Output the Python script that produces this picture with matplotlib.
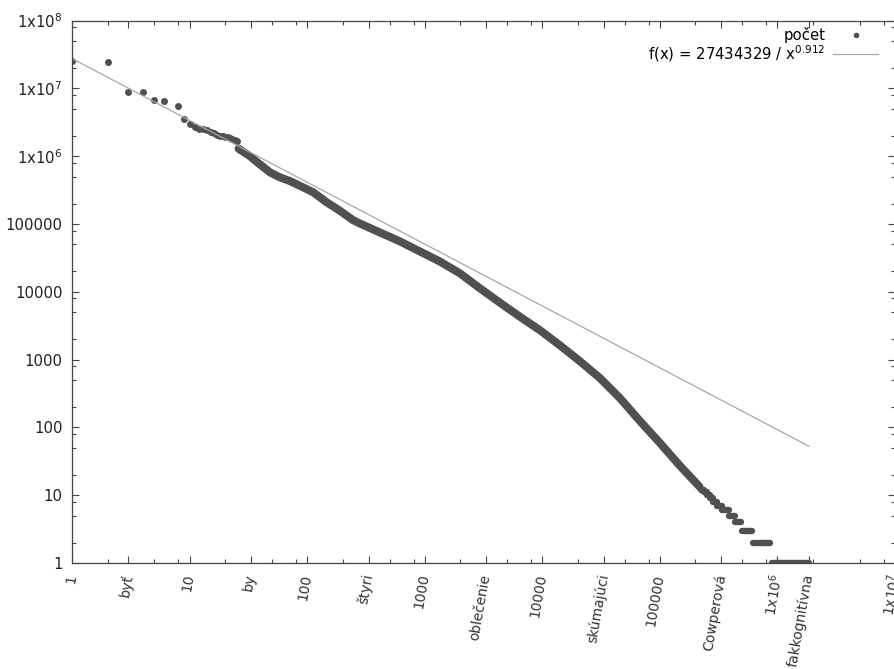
import matplotlib.pyplot as plt
import numpy as np

# first ranks, drawn as single dots
top_rank = [1, 2, 3, 4, 5, 6, 8, 9, 10, 11, 12, 13, 14, 15, 16, 17, 18, 19, 20,
            21, 22, 23, 24, 25]
top_count = [2.52e7, 2.43e7, 8.87e6, 8.8e6, 6.67e6, 6.6e6, 5.43e6, 3.49e6,
             2.99e6, 2.66e6, 2.55e6, 2.48e6, 2.4e6, 2.3e6, 2.2e6, 2.05e6, 2.0e6,
             1.97e6, 1.93e6, 1.9e6, 1.85e6, 1.78e6, 1.72e6, 1.68e6]

# dense middle part (points so close they make a band)
band_rank = [26, 32, 39, 48, 58, 71, 86, 112, 146, 189, 245, 279, 414, 612, 906,
             1340, 1980, 2930, 4330, 6410, 9480, 14000, 20800, 30700, 45400,
             67100, 99400, 147000, 217000]
band_count = [1.29e6, 1.02e6, 7.7e5, 5.8e5, 4.9e5, 4.3e5, 3.68e5, 2.94e5,
              2.09e5, 1.57e5, 1.14e5, 1.02e5, 7.5e4, 5.55e4, 3.94e4, 2.8e4,
              1.88e4, 1.13e4, 6950, 4310, 2730, 1640, 949, 539, 273, 126, 59.6,
              27.5, 13.4]

# low counts: every count value covers a range of ranks
tail_count = [12, 11, 10, 9, 8, 7, 6, 5, 4, 3, 2, 1]
tail_first = [2.25e5, 2.37e5, 2.5e5, 2.65e5, 2.83e5, 3.05e5, 3.35e5, 3.85e5,
              4.35e5, 5.0e5, 6.2e5, 8.9e5]
tail_last = [2.37e5, 2.5e5, 2.65e5, 2.83e5, 3.05e5, 3.35e5, 3.85e5, 4.35e5,
             4.9e5, 6.05e5, 8.65e5, 1.85e6]

fit_a = 27434329
fit_b = 0.912

xtick_pos = [1, 3, 10, 33, 100, 333, 1000, 3333, 10000, 33333, 100000, 333333,
             1e6, 1.85e6, 1e7]
xtick_lab = ['1', 'byť', '10', 'by', '100', 'štyri', '1000', 'oblečenie',
             '10000', 'skúmajúci', '100000', 'Cowperová', r'1x10$^{6}$',
             'fakkognitívna', r'1x10$^{7}$']
ytick_pos = [1, 10, 100, 1000, 1e4, 1e5, 1e6, 1e7, 1e8]
ytick_lab = ['1', '10', '100', '1000', '10000', '100000', r'1x10$^{6}$',
             r'1x10$^{7}$', r'1x10$^{8}$']

dot = '#505050'
fig = plt.figure(figsize=(8.95, 6.69), dpi=100)
ax = fig.add_axes([0.0808, 0.1584, 0.9192, 0.8108])

ax.plot(top_rank, top_count, 'o', color=dot, ms=5, mew=0, label='počet')
ax.plot(band_rank, band_count, '-', color=dot, lw=5.8,
        solid_capstyle='round', solid_joinstyle='round')
for c, a, b in zip(tail_count, tail_first, tail_last):
    ax.plot([a, b], [c, c], '-', color=dot, lw=4.6, solid_capstyle='round')

xf = np.logspace(0, np.log10(tail_last[-1]), 200)
ax.plot(xf, fit_a / xf**fit_b, color='#a8a8a8', lw=0.9,
        label=r'f(x) = 27434329 / x$^{0.912}$')

ax.set_xscale('log')
ax.set_yscale('log')
ax.set_xlim(1, 1e7)
ax.set_ylim(1, 1e8)

ax.set_xticks(xtick_pos)
ax.set_xticklabels(xtick_lab, rotation=80, ha='right', va='center',
                   rotation_mode='anchor', fontsize=10, color='#333333')
ax.set_yticks(ytick_pos)
ax.set_yticklabels(ytick_lab, fontsize=10.7, color='#222222')
minor = [m * 10**k for k in range(8) for m in (2, 5, 8)]
ax.set_xticks([v for v in minor if v < 1e7], minor=True)
ax.set_yticks([v for v in minor if v < 1e8], minor=True)
ax.set_xticklabels([], minor=True)
ax.set_yticklabels([], minor=True)

ax.tick_params(which='both', direction='in', top=True, right=True,
               color='#444444', width=0.8)
ax.tick_params(which='major', length=5)
ax.tick_params(which='minor', length=3)
ax.tick_params(axis='x', which='major', pad=8)
ax.tick_params(axis='y', which='major', pad=7)

for s in ['left', 'bottom', 'top']:
    ax.spines[s].set_color('#444444')
    ax.spines[s].set_linewidth(0.9)
ax.spines['right'].set_visible(False)

ax.legend(loc='upper right', bbox_to_anchor=(878 / 895, 1 - 27 / 669),
          bbox_transform=fig.transFigure, frameon=False, markerfirst=False,
          fontsize=10.7, handlelength=3.0, handletextpad=0.55,
          labelspacing=0.0, borderpad=0, borderaxespad=0, markerscale=0.8)

plt.savefig('out.png', dpi=100)
